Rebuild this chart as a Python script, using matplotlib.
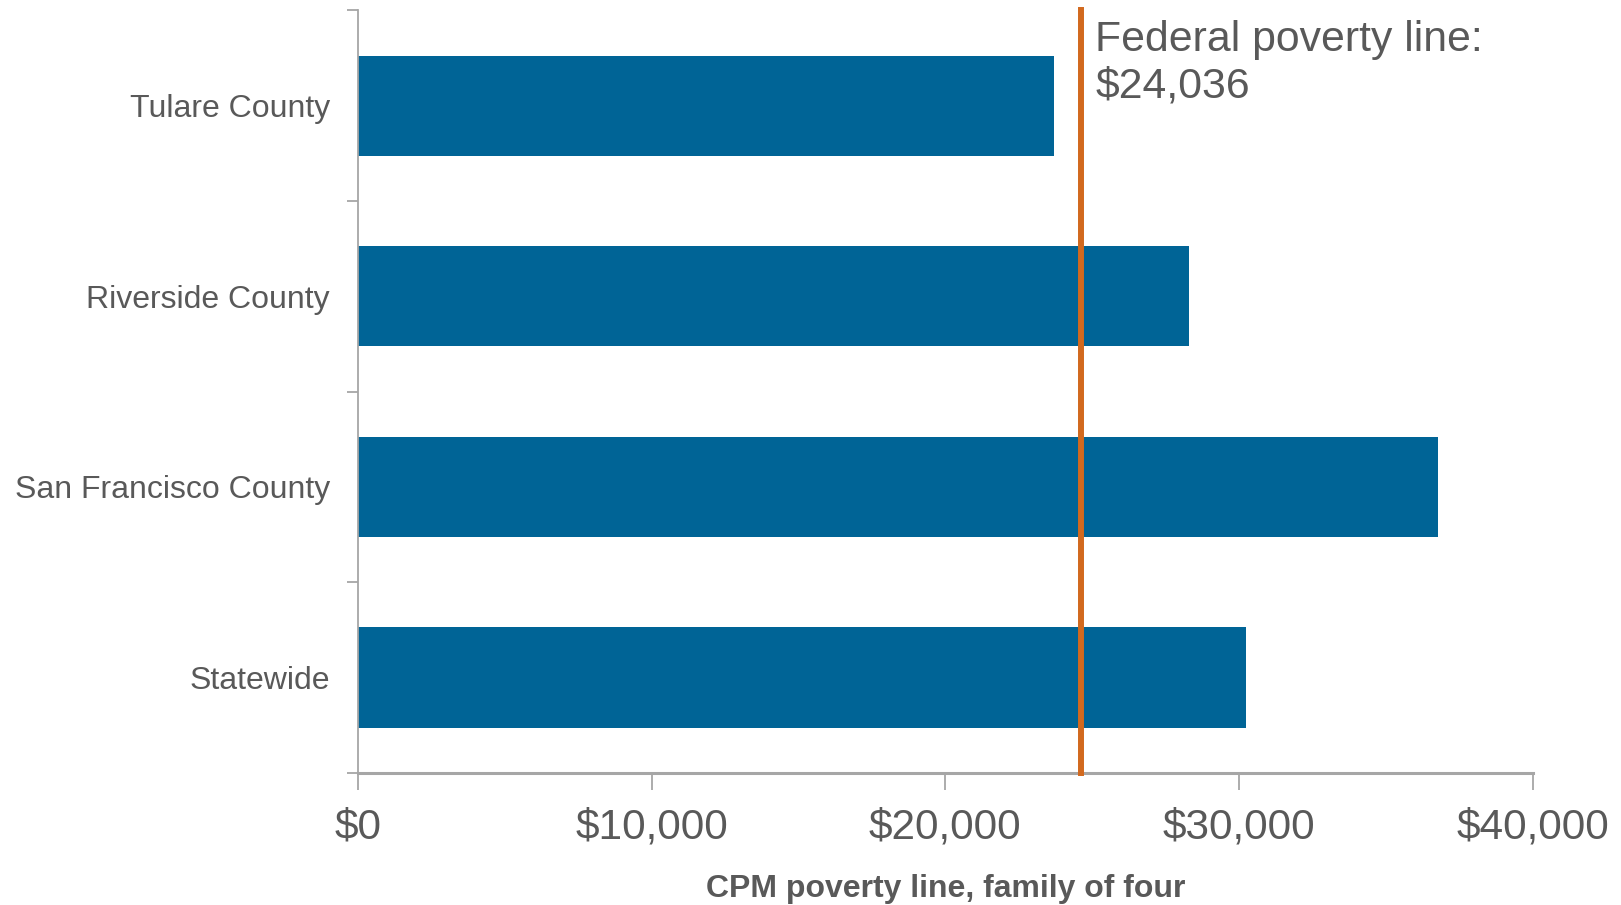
import numpy as np
import matplotlib
matplotlib.use("Agg")
import matplotlib.pyplot as plt
from matplotlib.ticker import FixedLocator, FuncFormatter

plt.rcParams["font.family"] = ["Liberation Sans", "DejaVu Sans"]

# --- data ---
areas = ["Tulare County", "Riverside County", "San Francisco County", "Statewide"]
cpm_line = [23700, 28300, 36780, 30230]
federal_line_x = 24600          # where the orange line sits in the picture
federal_label = "Federal poverty line:\n$24,036"
x_ticks = [0, 10000, 20000, 30000, 40000]

TEXT = "#595959"
AXIS = "#A6A6A6"
BAR = "#006496"
ORANGE = "#D2691E"

fig = plt.figure(figsize=(16.21, 9.05), dpi=100)
ax = fig.add_axes([0.2207, 0.1459, 0.725, 0.8427])

y = np.arange(len(areas))
ax.barh(y, cpm_line, height=0.526, color=BAR, zorder=2)
ax.set_ylim(len(areas) - 0.5, -0.5)
ax.set_xlim(0, 40000)

ax.axvline(federal_line_x, ymin=0, ymax=1, color=ORANGE, lw=4.3, zorder=3,
           clip_on=False)
ax.text(federal_line_x + 500, -0.45, federal_label, ha="left", va="top",
        fontsize=30.8, color=TEXT, linespacing=1.2)

# axes styling
for side in ["top", "right"]:
    ax.spines[side].set_visible(False)
ax.spines["left"].set_color(AXIS)
ax.spines["bottom"].set_color(AXIS)
ax.spines["left"].set_linewidth(1.3)
ax.spines["bottom"].set_linewidth(2.2)

ax.set_yticks(y)
ax.set_yticklabels(areas, fontsize=23, color=TEXT)
ax.tick_params(axis="y", which="major", length=0, pad=20)
ax.yaxis.set_minor_locator(FixedLocator(np.arange(-0.5, len(areas), 1.0)))
ax.tick_params(axis="y", which="minor", length=8, width=1.3, color=AXIS)

ax.set_xticks(x_ticks)
ax.xaxis.set_major_formatter(FuncFormatter(lambda v, p: f"${v:,.0f}"))
ax.tick_params(axis="x", which="major", length=12, width=1.3, color=AXIS,
               labelsize=30.5, labelcolor=TEXT, pad=13)

ax.set_xlabel("CPM poverty line, family of four", fontsize=23,
              fontweight="bold", color=TEXT, labelpad=19)

fig.savefig("out.png", dpi=100)
